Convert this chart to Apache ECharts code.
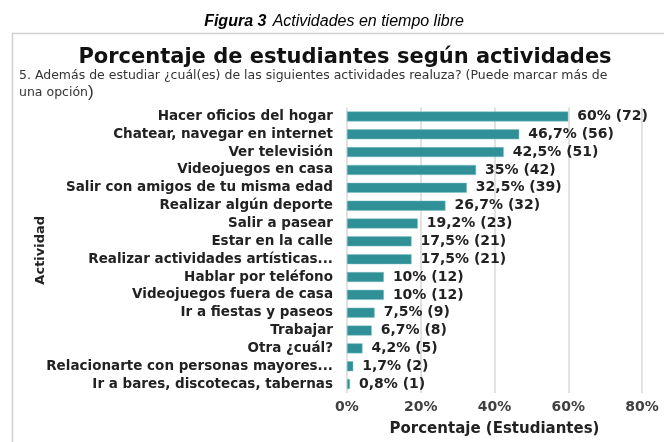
<!DOCTYPE html>
<html>
<head>
<meta charset="utf-8">
<script src="https://cdn.jsdelivr.net/npm/echarts@6/dist/echarts.min.js"></script>
<style>
html,body{margin:0;padding:0;background:#fff;}
#main{width:664px;height:442px;}
</style>
</head>
<body>
<div id="main"></div>
<script>
// datos de la figura
var actividades = [
	'Hacer oficios del hogar',
	'Chatear, navegar en internet',
	'Ver televisión',
	'Videojuegos en casa',
	'Salir con amigos de tu misma edad',
	'Realizar algún deporte',
	'Salir a pasear',
	'Estar en la calle',
	'Realizar actividades artísticas...',
	'Hablar por teléfono',
	'Videojuegos fuera de casa',
	'Ir a fiestas y paseos',
	'Trabajar',
	'Otra ¿cuál?',
	'Relacionarte con personas mayores...',
	'Ir a bares, discotecas, tabernas'
];
var porcentajes = [60, 46.7, 42.5, 35, 32.5, 26.7, 19.2, 17.5, 17.5, 10, 10, 7.5, 6.7, 4.2, 1.7, 0.8];
var estudiantes = [72, 56, 51, 42, 39, 32, 23, 21, 21, 12, 12, 9, 8, 5, 2, 1];
var ticksX = [0, 20, 40, 60, 80];

var FONT = '"Liberation Sans", Arial, sans-serif';
var WIDE = '"DejaVu Sans", Verdana, sans-serif';

var myChart = echarts.init(document.getElementById('main'));

var option = {
	animation: false,
	textStyle: {fontFamily: WIDE},
	graphic: [
		{
			type: 'polyline',
			shape: {points: [[12.5, 442], [12.5, 33.5], [664, 33.5]]},
			style: {stroke: '#d0d0d0', lineWidth: 1.5, fill: null}
		}
	],
	title: [
		{
			text: '{b|Figura 3} {i|Actividades en tiempo libre}',
			left: 329, top: 8, textAlign: 'center',
			textStyle: {
				rich: {
					b: {fontFamily: FONT, fontSize: 16, fontWeight: 'bold', fontStyle: 'italic', color: '#000'},
					i: {fontFamily: FONT, fontSize: 16, fontWeight: 'normal', fontStyle: 'italic', color: '#000'}
				}
			}
		},
		{
			text: 'Porcentaje de estudiantes según actividades',
			left: 340, top: 42, textAlign: 'center',
			textStyle: {fontFamily: WIDE, fontSize: 21, fontWeight: 'bold', color: '#111'}
		},
		{
			text: '{t|5. Además de estudiar ¿cuál(es) de las siguientes actividades realuza? (Puede marcar más de}\n{t|una opción}{p|)}',
			left: 14, top: 62,
			textStyle: {
				fontWeight: 'normal',
				rich: {
					t: {fontFamily: WIDE, fontSize: 12.5, fontWeight: 'normal', color: '#333', lineHeight: 17},
					p: {fontFamily: FONT, fontSize: 17, fontWeight: 'normal', color: '#333', lineHeight: 17}
				}
			}
		}
	],
	grid: {left: 347, right: 22, top: 107.5, bottom: 48},
	xAxis: {
		type: 'value',
		min: ticksX[0], max: ticksX[ticksX.length - 1], interval: 20,
		axisLine: {show: false},
		axisTick: {show: false},
		splitLine: {lineStyle: {color: '#d9d9d9', width: 1.5}},
		axisLabel: {
			formatter: '{value}%', margin: 7,
			fontFamily: WIDE, fontSize: 14, fontWeight: 'bold', color: '#404040'
		},
		name: 'Porcentaje (Estudiantes)',
		nameLocation: 'middle', nameGap: 29,
		nameTextStyle: {fontFamily: WIDE, fontSize: 15, fontWeight: 'bold', color: '#222'}
	},
	yAxis: {
		type: 'category',
		data: actividades,
		inverse: true,
		axisLine: {show: false},
		axisTick: {show: false},
		axisLabel: {
			interval: 0, margin: 14,
			fontFamily: WIDE, fontSize: 13.5, fontWeight: 'bold', color: '#222'
		},
		name: 'Actividad',
		nameLocation: 'middle', nameGap: 300,
		nameMoveOverlap: false,
		nameTextStyle: {fontFamily: WIDE, fontSize: 13, fontWeight: 'bold', color: '#222'}
	},
	series: [{
		type: 'bar',
		data: porcentajes,
		barWidth: 10,
		itemStyle: {color: '#2f9197', borderColor: '#7fbfc2', borderWidth: 0.5},
		label: {
			show: true, position: 'right', distance: 9,
			fontFamily: WIDE, fontSize: 14, fontWeight: 'bold', color: '#222',
			formatter: function (p) {
				return String(p.value).replace('.', ',') + '% (' + estudiantes[p.dataIndex] + ')';
			}
		}
	}]
};

myChart.setOption(option);
</script>
</body>
</html>
